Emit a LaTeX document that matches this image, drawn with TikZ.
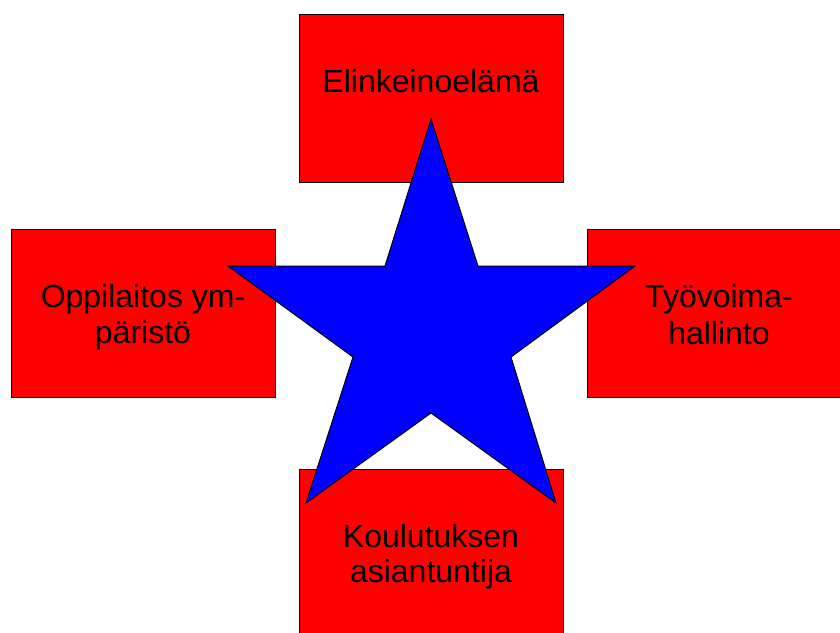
\documentclass[tikz,border=0pt]{standalone}
\usepackage{fontspec}
\setmainfont{Liberation Sans}
\usepackage{tikz}

\begin{document}
\begin{tikzpicture}[x=1pt, y=-1pt,
    box/.style={draw=black, fill=red, line width=1pt, minimum width=264pt, minimum height=168pt, inner sep=0pt},
    lbl/.style={anchor=base, font=\fontsize{32}{38}\selectfont, inner sep=0pt},
    starfill/.style={draw=black, fill=blue, line width=1pt, line join=miter}]
    % page frame
    \clip (0,0) rectangle (840,632);
    \useasboundingbox (0,0) rectangle (840,632);

    % Red boxes
    \node[box] (elink) at (431,98) {};
    \node[box] (oppil) at (143,313.5) {};
    \node[box] (tyov)  at (719,313.5) {};
    \node[box] (koul)  at (431,553) {};

    % Labels
    \node[lbl] (elinkA) at (431,92) {Elinkeinoelämä};
    \node[lbl] (oppilA) at (143,307) {Oppilaitos ym-};
    \node[lbl] (oppilB) at (143,343) {päristö};
    \node[lbl] (tyovA)  at (719,307) {Työvoima-};
    \node[lbl] (tyovB)  at (719,344) {hallinto};
    \node[lbl] (koulA)  at (431,547) {Koulutuksen};
    \node[lbl] (koulB)  at (431,582) {asiantuntija};

    % Blue star on top
    \draw[starfill] (431,119) -- (478,266) -- (635,266) -- (511,357) -- (556,503)
        -- (431,413) -- (306,503) -- (353,357) -- (228,266) -- (385,266) -- cycle;
\end{tikzpicture}
\end{document}
